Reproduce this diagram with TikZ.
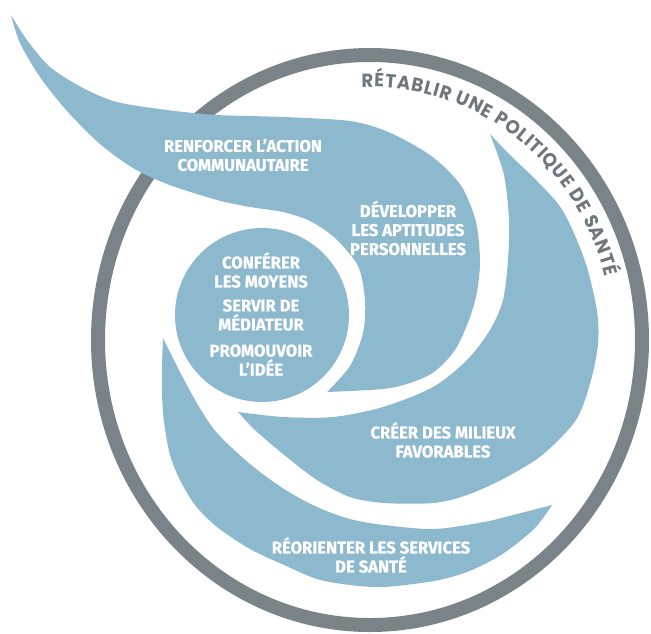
\documentclass[tikz,border=0pt]{standalone}
\usepackage{fontspec}
\newfontfamily\lblfont{Fira Sans}[FakeStretch=0.98, BoldFeatures={FakeBold=0.6}]
\newfontfamily\ringfont{Poppins}[FakeStretch=0.95]
\usetikzlibrary{decorations.text}
\definecolor{swirlblue}{HTML}{8DB9CF}
\definecolor{ringgray}{HTML}{7A8388}
\definecolor{ringtext}{HTML}{6E777D}
\tikzset{
   swirl/.style = {fill=swirlblue, draw=none},
    ring/.style = {draw=ringgray, line width=14},
     lbl/.style = {text=white, inner sep=0pt, align=center,
                   font=\lblfont\bfseries\fontsize{17}{19}\selectfont},
}

\begin{document}
\begin{tikzpicture}[x=1pt, y=-1pt]
\useasboundingbox (0,0) rectangle (651,633);
% outer ring and its title
\draw[ring] (370,340) ellipse [x radius=272, y radius=285];
\path[decorate, decoration={text along path, text align={fit to path},
    text color=ringtext,
    text={|\ringfont\bfseries\fontsize{19}{19}\selectfont|RÉTABLIR UNE POLITIQUE DE SANTÉ}}]
  (370,340) ++(-92:243 and 253) arc[start angle=-92, end angle=-14.5, x radius=243, y radius=253];
% swirl: action communautaire + aptitudes
\fill[swirl] plot[smooth] coordinates {(11,15) (27,40) (50,67) (83,88) (117,102) (167,110)
    (217,115) (284,117) (350,121) (386,131) (419,148) (440,163) (462,187) (476,222) (480,260)
    (477,292) (469,320) (455,350) (434,372) (410,383) (383,389) (327,392)}
  -- plot[smooth] coordinates {(327,392) (350,366) (363,333) (365,300) (358,266) (335,238)
    (310,221) (283,212) (250,207) (217,200) (167,184) (133,168) (100,144) (67,111) (40,77)
    (20,43) (11,15)} -- cycle;
% swirl: milieux favorables
\fill[swirl] plot[smooth] coordinates {(490,134) (511,156) (537,181) (563,211) (585,261)
    (597,311) (598,344) (591,380) (576,420) (541,456) (501,480) (467,495) (434,503)
    (384,503) (350,497) (317,480) (283,454) (255,430) (238,412)}
  -- plot[smooth] coordinates {(238,412) (283,417) (333,417) (383,407) (433,387) (467,360)
    (490,330) (503,300) (508,260) (509,220) (504,175) (490,134)} -- cycle;
% swirl: services de sante
\fill[swirl] plot[smooth] coordinates {(163,338) (180,372) (198,405) (217,433) (250,464)
    (284,489) (317,507) (350,519) (384,525) (434,529) (484,522) (517,514) (552,505)}
  -- plot[smooth] coordinates {(552,505) (534,529) (501,555) (467,572) (434,581) (384,587)
    (350,585) (317,579) (284,565) (250,549) (217,527) (195,505) (180,480) (170,455)
    (164,422) (162,394) (162,365) (163,338)} -- cycle;
% inner disc
\fill[swirl] (262,315) circle [radius=87];

\node[lbl] (renforcer) at (243,155) {RENFORCER L’ACTION\\COMMUNAUTAIRE};
\node[lbl] (developper) at (408,228) {DÉVELOPPER\\LES APTITUDES\\PERSONNELLES};
\node[lbl] (conferer) at (261,270) {CONFÉRER\\LES MOYENS};
\node[lbl] (servir) at (261,315) {SERVIR DE\\MÉDIATEUR};
\node[lbl] (promouvoir) at (261,360) {PROMOUVOIR\\L’IDÉE};
\node[lbl] (creer) at (443,440) {CRÉER DES MILIEUX\\FAVORABLES};
\node[lbl] (reorienter) at (371,555) {RÉORIENTER LES SERVICES\\DE SANTÉ};
\end{tikzpicture}
\end{document}
